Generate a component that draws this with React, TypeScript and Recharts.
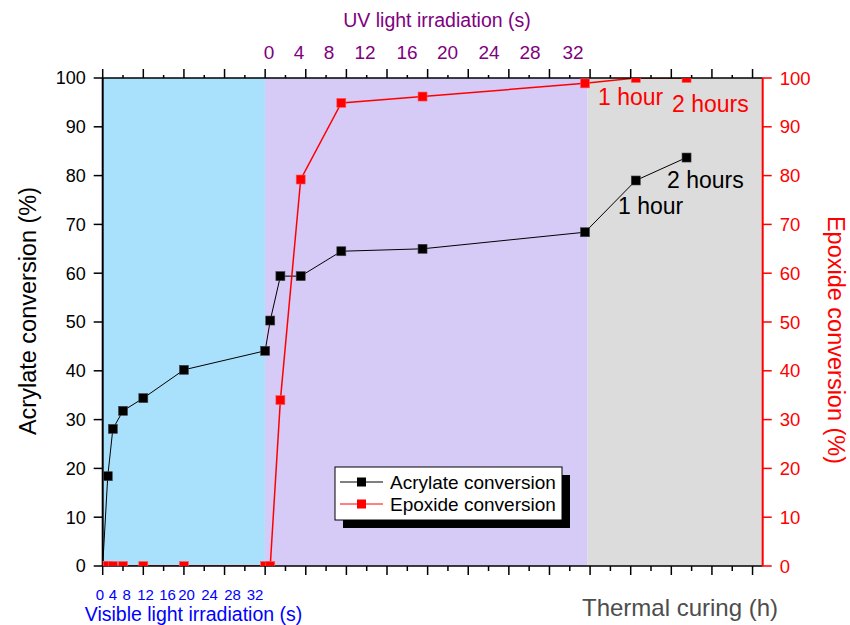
import { ComposedChart, Line, XAxis, YAxis, ReferenceArea } from "recharts"

const FONT = "'Liberation Sans', Arial, Helvetica, sans-serif"

/* ---------- data (x in axis units: one major tick = one unit) ---------- */
const xPos = [0, 0.125, 0.25, 0.5, 1, 2, 4, 4.125, 4.375, 4.875, 5.875, 7.875, 11.875, 13.125, 14.375]
const acrylate = [0, 18.4, 28.1, 31.8, 34.4, 40.2, 44.1, 50.3, 59.4, 59.4, 64.5, 65.0, 68.4, 79.0, 83.7]
const epoxide = [0, 0, 0, 0, 0, 0, 0, 0, 34.0, 79.2, 94.9, 96.2, 98.9, 100, 100]

const yTicks = [0, 10, 20, 30, 40, 50, 60, 70, 80, 90, 100]
const xTicks = Array.from({ length: 33 }, (_, i) => i / 2)

const visibleLabels = ["0", "4", "8", "12", "16", "20", "24", "28", "32"]
const uvLabels = ["0", "4", "8", "12", "16", "20", "24", "28", "32"]

const regions = [
  { from: 0, to: 3.995, color: "#a9e1fc" },
  { from: 3.995, to: 11.94, color: "#d6caf6" },
  { from: 11.94, to: 16.25, color: "#dcdcdc" },
]

const rows = xPos.map((x, i) => ({ x, acrylate: acrylate[i], epoxide: epoxide[i] }))

// pixel layout of the hand-placed tick labels
const visibleLabelX = [100, 113, 126.7, 145.5, 167.5, 186.5, 209.5, 232.5, 255]
const uvLabelX = [269, 299, 329, 365, 407, 447.5, 489, 530, 573]

function BottomTick(p: any) {
  const major = Number.isInteger(p.payload.value)
  return <line x1={p.x} x2={p.x} y1={p.y} y2={p.y + (major ? 9 : 5)} stroke="#000" strokeWidth={1.5} />
}

function TopTick(p: any) {
  const major = Number.isInteger(p.payload.value)
  return <line x1={p.x} x2={p.x} y1={p.y} y2={p.y - (major ? 9 : 3)} stroke="#000" strokeWidth={1.5} />
}

const square = (fill: string, edge: string) => (p: any) => {
  if (p.cx == null || p.cy == null) return null
  return <rect key={p.index} x={p.cx - 4.5} y={p.cy - 4.5} width={9} height={9} fill={fill} stroke={edge} strokeWidth={0.6} />
}

export default function App() {
  return (
    <div style={{ position: "absolute", left: 0, top: 0, width: 850, height: 625, background: "#fff", fontFamily: FONT }}>
      <ComposedChart width={850} height={625} data={rows} margin={{ top: 68, right: 27.3, bottom: 49, left: 42.7 }}>
        {regions.map((r, i) => (
          <ReferenceArea
            key={i}
            xAxisId="b"
            yAxisId="l"
            x1={r.from}
            x2={r.to}
            y1={0}
            y2={100}
            fill={r.color}
            fillOpacity={1}
            stroke="none"
          />
        ))}
        <XAxis
          xAxisId="b"
          type="number"
          dataKey="x"
          domain={[0, 16.25]}
          allowDataOverflow
          ticks={xTicks}
          interval={0}
          tickSize={0}
          tickMargin={0}
          tickLine={false}
          tick={<BottomTick />}
          height={10}
          axisLine={{ stroke: "#000", strokeWidth: 1.5 }}
        />
        <XAxis
          xAxisId="t"
          orientation="top"
          type="number"
          dataKey="x"
          domain={[0, 16.25]}
          allowDataOverflow
          ticks={xTicks}
          interval={0}
          tickSize={0}
          tickMargin={0}
          tickLine={false}
          tick={<TopTick />}
          height={10}
          axisLine={{ stroke: "#000", strokeWidth: 1.5 }}
        />
        <YAxis
          yAxisId="l"
          domain={[0, 100]}
          allowDataOverflow
          ticks={yTicks}
          interval={0}
          width={60}
          tickSize={9}
          tickMargin={8}
          axisLine={{ stroke: "#000", strokeWidth: 2 }}
          tickLine={{ stroke: "#000", strokeWidth: 1.5 }}
          tick={{ fill: "#000", fontSize: 18, fontFamily: FONT }}
        />
        <YAxis
          yAxisId="r"
          orientation="right"
          domain={[0, 100]}
          allowDataOverflow
          ticks={yTicks}
          interval={0}
          width={60}
          tickSize={9}
          tickMargin={8}
          axisLine={{ stroke: "#ff0000", strokeWidth: 2 }}
          tickLine={{ stroke: "#ff0000", strokeWidth: 1.5 }}
          tick={{ fill: "#ff0000", fontSize: 18.5, fontFamily: FONT }}
        />
        <Line
          xAxisId="b"
          yAxisId="l"
          dataKey="acrylate"
          type="linear"
          stroke="#000"
          strokeWidth={1}
          dot={square("#000", "#444")}
          activeDot={false}
          isAnimationActive={false}
        />
        <Line
          xAxisId="b"
          yAxisId="r"
          dataKey="epoxide"
          type="linear"
          stroke="#ff0000"
          strokeWidth={1.5}
          dot={square("#ff0000", "#ff5a5a")}
          activeDot={false}
          isAnimationActive={false}
        />
      </ComposedChart>

      <svg
        width={850}
        height={625}
        style={{ position: "absolute", left: 0, top: 0, pointerEvents: "none", fontFamily: FONT }}
      >
        {/* top axis: UV light */}
        <text x={437} y={27} textAnchor="middle" fontSize={19.5} fill="#800080">
          UV light irradiation (s)
        </text>
        {uvLabels.map((t, i) => (
          <text key={i} x={uvLabelX[i]} y={59} textAnchor="middle" fontSize={19} fill="#800080">
            {t}
          </text>
        ))}

        {/* bottom axis: visible light */}
        {visibleLabels.map((t, i) => (
          <text key={i} x={visibleLabelX[i]} y={600} textAnchor="middle" fontSize={15} fill="#0000ff">
            {t}
          </text>
        ))}
        <text x={193.5} y={621} textAnchor="middle" fontSize={19.5} fill="#0000ff">
          Visible light irradiation (s)
        </text>
        <text x={582} y={616} fontSize={24} fill="#4d4d4d">
          Thermal curing (h)
        </text>

        {/* axis titles */}
        <text x={36} y={311} transform="rotate(-90 36 311)" textAnchor="middle" fontSize={23.5} fill="#000">
          Acrylate conversion (%)
        </text>
        <text x={828} y={340} transform="rotate(90 828 340)" textAnchor="middle" fontSize={23.5} fill="#ff0000">
          Epoxide conversion (%)
        </text>

        {/* thermal curing annotations */}
        <text x={598} y={105} fontSize={23} fill="#ff0000">1 hour</text>
        <text x={672} y={112} fontSize={23} fill="#ff0000">2 hours</text>
        <text x={618} y={214} fontSize={23} fill="#000">1 hour</text>
        <text x={667} y={188} fontSize={23} fill="#000">2 hours</text>

        {/* legend */}
        <rect x={343} y={475} width={227} height={53} fill="#000" />
        <rect x={335} y={467} width={227} height={53} fill="#fff" stroke="#000" strokeWidth={1} />
        <line x1={340} x2={383} y1={482} y2={482} stroke="#000" strokeWidth={1} />
        <rect x={357} y={477.5} width={9} height={9} fill="#000" />
        <text x={390} y={488.5} fontSize={19} fill="#000">Acrylate conversion</text>
        <line x1={340} x2={383} y1={504} y2={504} stroke="#ff0000" strokeWidth={1} />
        <rect x={357} y={499.5} width={9} height={9} fill="#ff0000" />
        <text x={390} y={510.5} fontSize={19} fill="#000">Epoxide conversion</text>
      </svg>
    </div>
  )
}
